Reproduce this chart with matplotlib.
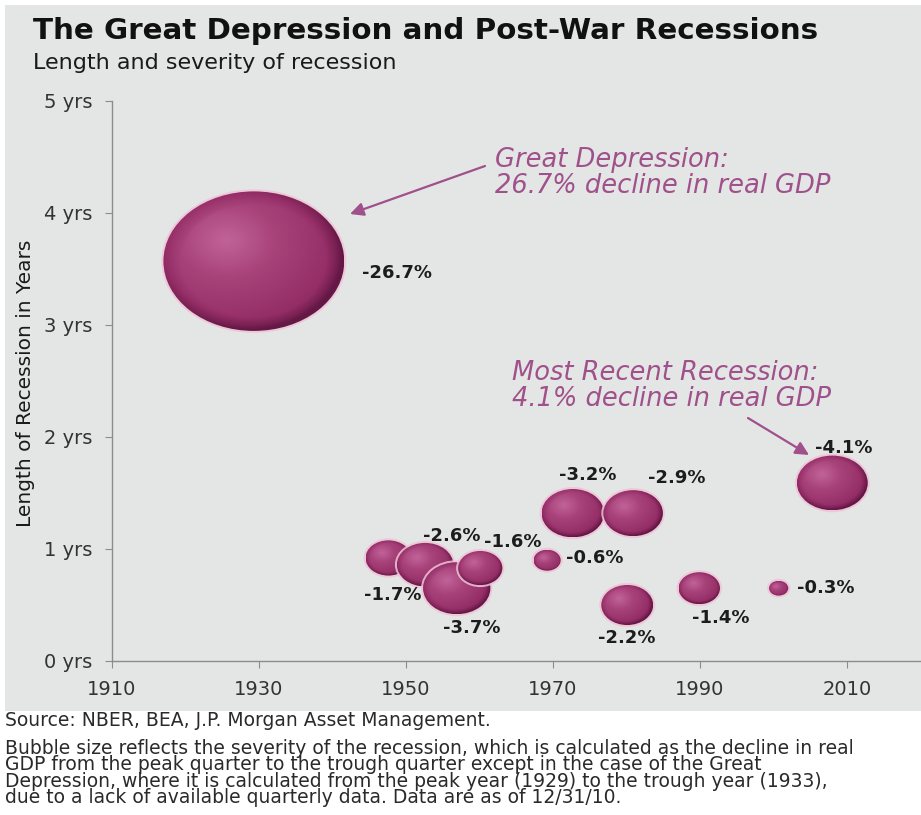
import numpy as np
import matplotlib
matplotlib.use('Agg')
import matplotlib.pyplot as plt
from matplotlib.patches import Ellipse, Rectangle
from matplotlib.colors import LinearSegmentedColormap

# recession data (peak year, length in years, real GDP decline in %)
peak_year = [1929.3, 1947.6, 1952.6, 1956.9, 1960.1, 1969.2,
             1972.7, 1980.1, 1980.9, 1989.9, 2000.7, 2008.0]
length_yrs = [3.57, 0.92, 0.86, 0.65, 0.83, 0.90,
              1.32, 0.50, 1.32, 0.65, 0.65, 1.59]
gdp_decline = [26.7, 1.7, 2.6, 3.7, 1.6, 0.6,
               3.2, 2.2, 2.9, 1.4, 0.3, 4.1]

x_ticks = [1910, 1930, 1950, 1970, 1990, 2010]
y_ticks = [0, 1, 2, 3, 4, 5]
y_tick_labels = ['%d yrs' % v for v in y_ticks]

# label placement, pixel offsets from each bubble centre
label_offsets = [(143, -12), (4, -37), (27, 29), (15, -40), (33, 26), (48, 2),
                 (15, 38), (0, -33), (44, 35), (21, -30), (47, 0), (11, 35)]

W, H = 921, 815
BG = '#e3e6e5'
AXIS_GREY = '#8c8c8c'
NOTE = '#a0508a'

fig = plt.figure(figsize=(W / 100, H / 100), dpi=100)
fig.patch.set_facecolor('white')
fig.add_artist(Rectangle((5 / W, (H - 711) / H), (W - 5) / W, (711 - 5) / H,
                         transform=fig.transFigure, facecolor=BG,
                         edgecolor='none', zorder=0))

ax = fig.add_axes([112 / W, (H - 661) / H, 808.5 / W, 560 / H])
ax.set_facecolor('none')
ax.set_xlim(1910, 2020)
ax.set_ylim(0, 5)

for side in ['top', 'right']:
    ax.spines[side].set_visible(False)
for side in ['left', 'bottom']:
    ax.spines[side].set_color(AXIS_GREY)
    ax.spines[side].set_linewidth(1.0)

ax.set_xticks(x_ticks)
ax.set_xticklabels([str(v) for v in x_ticks], fontsize=14, color='#333333')
ax.set_yticks(y_ticks)
ax.set_yticklabels(y_tick_labels, fontsize=14, color='#333333')
ax.tick_params(axis='x', length=5, color=AXIS_GREY, pad=9)
ax.tick_params(axis='y', length=5, color=AXIS_GREY, pad=9)

# pixel scale of the axes, used to size the bubbles
p0 = ax.transData.transform((0, 0))
px_per_year = ax.transData.transform((1, 0))[0] - p0[0]
px_per_unit_y = ax.transData.transform((0, 1))[1] - p0[1]

# shading for the 3D bubbles
bubble_cmap = LinearSegmentedColormap.from_list(
    'bubble', [(0.0, '#c0639a'), (0.3, '#a8437a'), (0.65, '#962f68'),
               (0.88, '#7a2153'), (1.0, '#641845')])
g = np.linspace(-1, 1, 160)
U, V = np.meshgrid(g, g[::-1])
R = np.sqrt(U ** 2 + V ** 2)
D = np.sqrt((U + 0.3) ** 2 + (V - 0.3) ** 2)
shade = np.clip(D / 1.8 + 0.3 * np.clip((R - 0.8) / 0.2, 0, 1), 0, 1)

for i, (x, y, s) in enumerate(zip(peak_year, length_yrs, gdp_decline)):
    w_px = 35 * np.sqrt(s)
    h_px = 27 * np.sqrt(s)
    w = w_px / px_per_year
    h = h_px / px_per_unit_y
    z = 3 + i * 0.1
    glow = Ellipse((x, y), w + 4 / px_per_year, h + 4 / px_per_unit_y,
                   facecolor='#efc3d8', edgecolor='none', alpha=0.85, zorder=z)
    ax.add_patch(glow)
    clip = Ellipse((x, y), w, h, facecolor='none', edgecolor='none',
                   transform=ax.transData)
    ax.add_patch(clip)
    im = ax.imshow(shade, cmap=bubble_cmap, vmin=0, vmax=1, aspect='auto',
                   extent=(x - w / 2, x + w / 2, y - h / 2, y + h / 2),
                   interpolation='bilinear', zorder=z + 0.01)
    im.set_clip_path(clip)

for (x, y, s), (dx, dy) in zip(zip(peak_year, length_yrs, gdp_decline), label_offsets):
    ax.annotate('-%.1f%%' % s, xy=(x, y), xytext=(dx, dy),
                textcoords='offset pixels', ha='center', va='center',
                fontsize=13, fontweight='bold', color='#1c1c1c', zorder=10)

ax.set_xlim(1910, 2020)
ax.set_ylim(0, 5)

# callouts
ax.annotate('', xy=(350, H - 214), xytext=(485, H - 166),
            xycoords='figure pixels', textcoords='figure pixels',
            arrowprops=dict(arrowstyle='-|>', color=NOTE, lw=1.6,
                            mutation_scale=20, shrinkA=0, shrinkB=0))
ax.annotate('', xy=(809, H - 455), xytext=(748, H - 418),
            xycoords='figure pixels', textcoords='figure pixels',
            arrowprops=dict(arrowstyle='-|>', color=NOTE, lw=1.6,
                            mutation_scale=20, shrinkA=0, shrinkB=0))
fig.text(495 / W, 1 - 173 / H, 'Great Depression:\n26.7% decline in real GDP',
         ha='left', va='center', fontsize=18.5, style='italic', color=NOTE,
         linespacing=1.0)
fig.text(512 / W, 1 - 386 / H, 'Most Recent Recession:\n4.1% decline in real GDP',
         ha='left', va='center', fontsize=18.5, style='italic', color=NOTE,
         linespacing=1.0)

# titles and axis label
fig.text(33 / W, 1 - 31 / H, 'The Great Depression and Post-War Recessions',
         ha='left', va='center', fontsize=21.2, fontweight='bold', color='#111111')
fig.text(33 / W, 1 - 63 / H, 'Length and severity of recession',
         ha='left', va='center', fontsize=16, color='#1a1a1a')
fig.text(26 / W, 1 - 383 / H, 'Length of Recession in Years', rotation=90,
         ha='center', va='center', fontsize=14.5, color='#1a1a1a')

# footnotes
fig.text(5 / W, 1 - 721 / H, 'Source: NBER, BEA, J.P. Morgan Asset Management.',
         ha='left', va='center', fontsize=13.5, color='#2a2a2a')
fig.text(5 / W, 1 - 739 / H,
         'Bubble size reflects the severity of the recession, which is calculated as the decline in real\n'
         'GDP from the peak quarter to the trough quarter except in the case of the Great\n'
         'Depression, where it is calculated from the peak year (1929) to the trough year (1933),\n'
         'due to a lack of available quarterly data. Data are as of 12/31/10.',
         ha='left', va='top', fontsize=13.5, color='#2a2a2a', linespacing=0.82)

fig.savefig('out.png', dpi=100)
